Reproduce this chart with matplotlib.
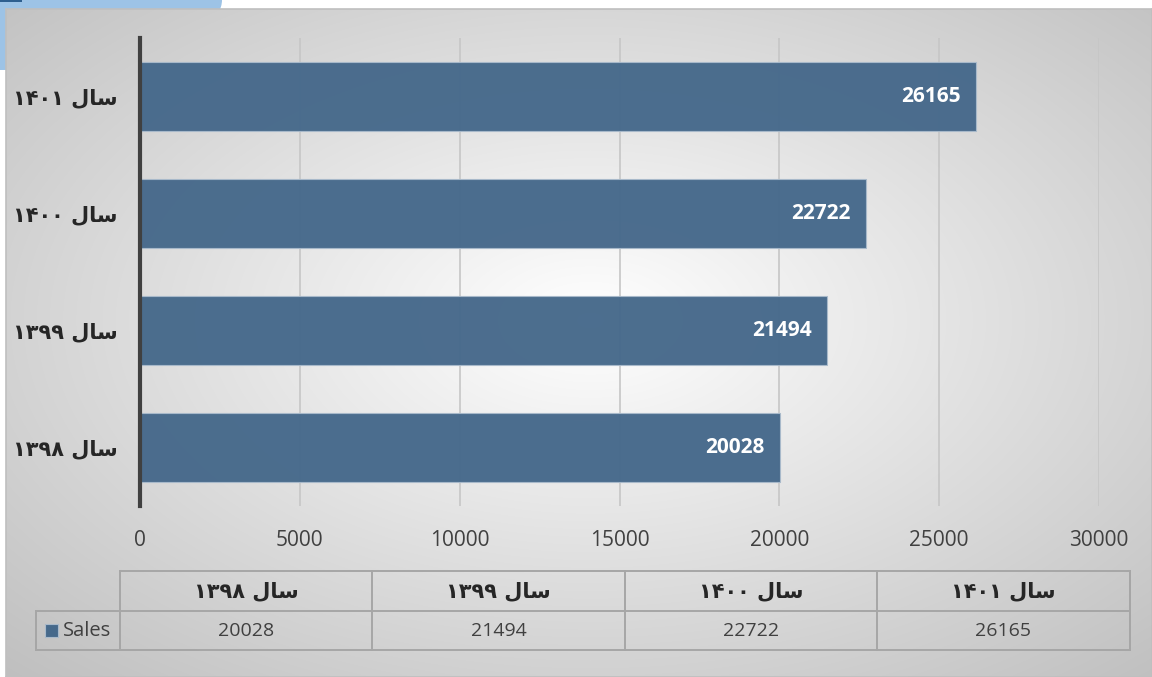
import numpy as np
import matplotlib.pyplot as plt
from matplotlib.patches import Rectangle, Ellipse

# data
years = ['سال ۱۳۹۸', 'سال ۱۳۹۹', 'سال ۱۴۰۰', 'سال ۱۴۰۱']
sales = [20028, 21494, 22722, 26165]
xticks = [0, 5000, 10000, 15000, 20000, 25000, 30000]

W, H = 1152, 677
BAR = '#46698b'
TXT = '#404040'

# matplotlib has no arabic shaping -> build visual order by hand
FORMS = {'س': ('\ufeb1', '\ufeb2', '\ufeb3', '\ufeb4'),
         'ا': ('\ufe8d', '\ufe8e', None, None),
         'ل': ('\ufedd', '\ufede', '\ufedf', '\ufee0')}
NOJOIN_NEXT = {'ا'}


def shape_word(w):
    out = []
    for i, ch in enumerate(w):
        prev_joins = i > 0 and w[i - 1] not in NOJOIN_NEXT
        next_exists = i < len(w) - 1 and ch not in NOJOIN_NEXT
        iso, fin, ini, med = FORMS[ch]
        if prev_joins and next_exists:
            out.append(med)
        elif prev_joins:
            out.append(fin)
        elif next_exists:
            out.append(ini)
        else:
            out.append(iso)
    return ''.join(reversed(out))


def visual(label):
    word, num = label.split(' ')
    return num + ' ' + shape_word(word)


fig = plt.figure(figsize=(W / 100, H / 100), dpi=100)
fig.patch.set_facecolor('white')

def fx(px):
    return px / W

def fy(py):
    return 1 - py / H

# blue corner decoration, behind everything
back = fig.add_axes([0, 0, 1, 1], zorder=0)
back.set_xlim(0, W)
back.set_ylim(H, 0)
back.axis('off')
back.add_patch(Ellipse((0, 0), 2 * 222, 2 * 70, facecolor='#9dc3e6', edgecolor='none'))
back.add_patch(Rectangle((0, 0), 22, 2, facecolor='#2e5f8f', edgecolor='none'))

# chart box with radial gradient
bx0, by0, bx1, by1 = 6, 9, 1152, 677
bg = fig.add_axes([fx(bx0), fy(by1), fx(bx1 - bx0), (by1 - by0) / H], zorder=1)
yy, xx = np.mgrid[by0:by1, bx0:bx1]
r = np.sqrt(((xx - 590) / 580) ** 2 + ((yy - 320) / 340) ** 2)
v = np.clip(255 - 44 * r, 0, 255) / 255
bg.imshow(np.dstack([v, v, v]), aspect='auto', extent=[0, 1, 0, 1], origin='upper')
bg.set_xlim(0, 1)
bg.set_ylim(0, 1)
bg.set_xticks([])
bg.set_yticks([])
for s in bg.spines.values():
    s.set_color('#bfbfbf')
    s.set_linewidth(1.2)

# bar chart
ax = fig.add_axes([fx(140), fy(506), fx(1099 - 140), 468 / H], zorder=2)
ax.patch.set_alpha(0)
y = np.arange(len(years))
bars = ax.barh(y, sales, height=0.59, color=BAR, alpha=0.97,
               edgecolor='#a9bacb', linewidth=0.8, zorder=3)
for b, val in zip(bars, sales):
    ax.text(val - 480, b.get_y() + b.get_height() / 2, str(val),
            ha='right', va='center', color='white', fontsize=15,
            fontweight='bold', family='Open Sans', zorder=4)

ax.set_xlim(0, 30000)
ax.set_ylim(-0.5, 3.5)
ax.set_xticks(xticks)
ax.set_xticklabels([str(t) for t in xticks], fontsize=15, color=TXT, family='Open Sans')
ax.tick_params(axis='x', length=0, pad=17)
ax.set_yticks(y)
ax.set_yticklabels([visual(t) for t in years], fontsize=15, fontweight='bold',
                   color='#262626', family='DejaVu Sans')
ax.tick_params(axis='y', length=0, pad=16)
ax.grid(axis='x', color='#c6c6c6', linewidth=1.2, zorder=0)
for s in ['top', 'right', 'bottom']:
    ax.spines[s].set_visible(False)
ax.spines['left'].set_color('#404040')
ax.spines['left'].set_linewidth(3)
ax.spines['left'].set_zorder(5)

# data table drawn as lines and texts in figure pixels
tab = fig.add_axes([0, 0, 1, 1], zorder=3)
tab.set_xlim(0, W)
tab.set_ylim(H, 0)
tab.axis('off')
cols = [120, 372, 625, 877, 1130]
rows = [571, 611, 650]
lc = '#a6a6a6'
lw = 1.4
tab.plot([cols[0], cols[-1]], [rows[0], rows[0]], color=lc, lw=lw)
tab.plot([36, cols[-1]], [rows[1], rows[1]], color=lc, lw=lw)
tab.plot([36, cols[-1]], [rows[2], rows[2]], color=lc, lw=lw)
for c in cols:
    tab.plot([c, c], [rows[0], rows[2]], color=lc, lw=lw)
tab.plot([36, 36], [rows[1], rows[2]], color=lc, lw=lw)
for i in range(len(years)):
    cx = (cols[i] + cols[i + 1]) / 2
    tab.text(cx, (rows[0] + rows[1]) / 2, visual(years[i]), ha='center', va='center',
             fontsize=15, fontweight='bold', color='#262626', family='DejaVu Sans')
    tab.text(cx, (rows[1] + rows[2]) / 2, str(sales[i]), ha='center', va='center',
             fontsize=14, color=TXT, family='Open Sans')
tab.add_patch(Rectangle((45, 624), 13, 13, facecolor=BAR, edgecolor='#a9bacb', lw=0.8))
tab.text(63, (rows[1] + rows[2]) / 2, 'Sales', ha='left', va='center',
         fontsize=14.5, color=TXT, family='Open Sans')

fig.savefig('out.png', dpi=100)
